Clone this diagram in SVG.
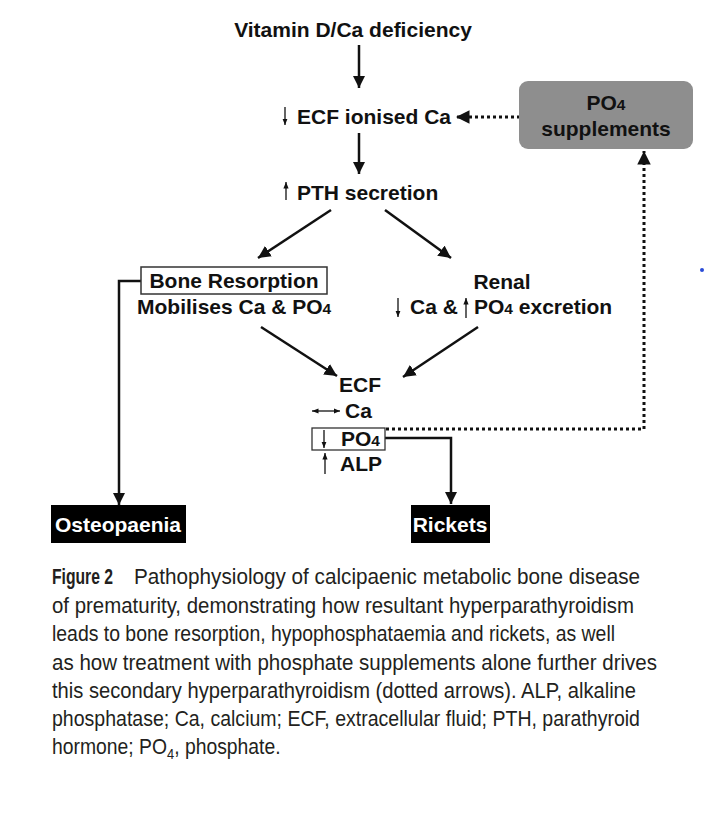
<svg xmlns="http://www.w3.org/2000/svg" width="708" height="813" viewBox="0 0 708 813">
<style>
.t{font-family:"Liberation Sans",Arial,sans-serif;font-weight:bold;font-size:21px;fill:#111}
.w{fill:#fff}
.s{font-size:15.5px}
.cap{font-family:"Liberation Sans",Arial,sans-serif;font-size:22.5px;fill:#231f20}
.ln{stroke:#111;stroke-width:2.5;fill:none}
.dt{stroke:#111;stroke-width:3;fill:none;stroke-dasharray:3 3}
.th{stroke:#111;stroke-width:1.3;fill:none}
</style>
<defs>
<marker id="ah" viewBox="0 0 10 10" refX="10" refY="5" markerWidth="5" markerHeight="5" markerUnits="strokeWidth" orient="auto"><path d="M0,0 L10,5 L0,10 z" fill="#111"/></marker>
<marker id="ahd" viewBox="0 0 10 10" refX="10" refY="5" markerWidth="4.5" markerHeight="4.5" markerUnits="strokeWidth" orient="auto"><path d="M0,0 L10,5 L0,10 z" fill="#111"/></marker>
<marker id="sm" viewBox="0 0 10 10" refX="10" refY="5" markerWidth="5" markerHeight="5" markerUnits="strokeWidth" orient="auto"><path d="M0,1 L10,5 L0,9 z" fill="#111"/></marker>
</defs>
<rect width="708" height="813" fill="#fff"/>

<g id="connectors">
<line class="ln" x1="359" y1="45" x2="359" y2="88" marker-end="url(#ah)"/>
<line class="ln" x1="359" y1="133" x2="359" y2="174" marker-end="url(#ah)"/>
<line class="ln" x1="331" y1="210" x2="258" y2="258" marker-end="url(#ah)"/>
<line class="ln" x1="385" y1="210" x2="451" y2="258" marker-end="url(#ah)"/>
<line class="ln" x1="261" y1="327" x2="337" y2="376" marker-end="url(#ah)"/>
<line class="ln" x1="478" y1="327" x2="403" y2="377" marker-end="url(#ah)"/>
<polyline class="ln" points="141,281 119,281 119,505" marker-end="url(#ah)"/>
<polyline class="ln" points="385,438 451,438 451,504" marker-end="url(#ah)"/>
<line class="dt" x1="520" y1="117" x2="456" y2="117" marker-end="url(#ahd)"/>
<polyline class="dt" points="386,429 644,429 644,151" marker-end="url(#ahd)"/>
</g>

<g id="vitd"><text class="t" x="353" y="37" text-anchor="middle">Vitamin D/Ca deficiency</text></g>

<g id="ecf-ca">
<line class="th" x1="285" y1="107" x2="285" y2="125" marker-end="url(#sm)"/>
<text class="t" x="297" y="124">ECF ionised Ca</text>
</g>

<g id="po4-supp">
<rect x="519" y="81" width="174" height="68" rx="9" fill="#8e8e8e"/>
<text class="t" x="606" y="110" text-anchor="middle">PO<tspan class="s">4</tspan></text>
<text class="t" x="606" y="136" text-anchor="middle">supplements</text>
</g>

<g id="pth">
<line class="th" x1="286" y1="200" x2="286" y2="182" marker-end="url(#sm)"/>
<text class="t" x="297" y="200">PTH secretion</text>
</g>

<g id="bone">
<rect x="141" y="267" width="186" height="27" fill="#fff" stroke="#333" stroke-width="1.5"/>
<text class="t" x="234" y="288" text-anchor="middle">Bone Resorption</text>
<text class="t" x="137" y="314">Mobilises Ca &amp; PO<tspan class="s">4</tspan></text>
</g>

<g id="renal">
<text class="t" x="502" y="289" text-anchor="middle">Renal</text>
<line class="th" x1="398" y1="298" x2="398" y2="317" marker-end="url(#sm)"/>
<text class="t" x="410" y="314">Ca &amp;</text>
<line class="th" x1="466" y1="318" x2="466" y2="298" marker-end="url(#sm)"/>
<text class="t" x="474" y="314">PO<tspan class="s">4</tspan> excretion</text>
</g>

<g id="ecf">
<text class="t" x="360" y="392" text-anchor="middle">ECF</text>
<line class="th" x1="326" y1="411" x2="340" y2="411" marker-end="url(#sm)"/>
<line class="th" x1="326" y1="411" x2="312" y2="411" marker-end="url(#sm)"/>
<text class="t" x="345" y="418">Ca</text>
<rect x="312" y="428" width="73" height="22" fill="#fff" stroke="#333" stroke-width="1.3"/>
<line class="th" x1="324" y1="430" x2="324" y2="448" marker-end="url(#sm)"/>
<text class="t" x="341" y="446">PO<tspan class="s">4</tspan></text>
<line class="th" x1="325" y1="474" x2="325" y2="453" marker-end="url(#sm)"/>
<text class="t" x="340" y="471">ALP</text>
</g>

<g id="osteopaenia">
<rect x="51" y="505" width="135" height="38" fill="#000"/>
<text class="t w" x="118" y="532" text-anchor="middle">Osteopaenia</text>
</g>

<g id="rickets">
<rect x="411" y="505" width="79" height="38" fill="#000"/>
<text class="t w" x="450" y="532" text-anchor="middle">Rickets</text>
</g>

<circle cx="702" cy="270" r="2" fill="#2a4bd7"/>

<g id="caption" transform="translate(52,0) scale(0.86,1)">
<text class="cap" x="0" y="584" font-weight="bold" textLength="70.9" lengthAdjust="spacingAndGlyphs">Figure 2</text>
<text class="cap" x="95.4" y="584" textLength="588.4" lengthAdjust="spacingAndGlyphs">Pathophysiology of calcipaenic metabolic bone disease</text>
<text class="cap" x="0" y="613" textLength="676.7" lengthAdjust="spacingAndGlyphs">of prematurity, demonstrating how resultant hyperparathyroidism</text>
<text class="cap" x="0" y="641" textLength="654.7" lengthAdjust="spacingAndGlyphs">leads to bone resorption, hypophosphataemia and rickets, as well</text>
<text class="cap" x="0" y="670" textLength="703.5" lengthAdjust="spacingAndGlyphs">as how treatment with phosphate supplements alone further drives</text>
<text class="cap" x="0" y="698" textLength="679.1" lengthAdjust="spacingAndGlyphs">this secondary hyperparathyroidism (dotted arrows). ALP, alkaline</text>
<text class="cap" x="0" y="726" textLength="683.7" lengthAdjust="spacingAndGlyphs">phosphatase; Ca, calcium; ECF, extracellular fluid; PTH, parathyroid</text>
<text class="cap" x="0" y="754">hormone; PO<tspan font-size="15" dy="5">4</tspan><tspan dy="-5">, phosphate.</tspan></text>
</g>
</svg>
